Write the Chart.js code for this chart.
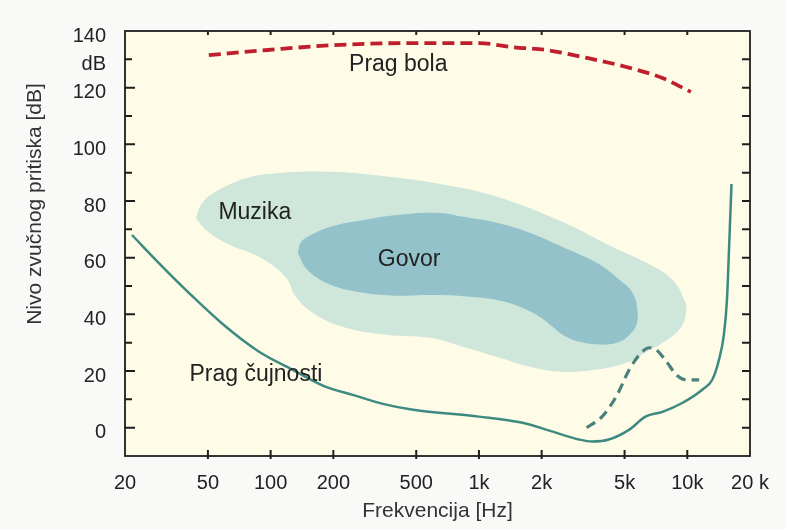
<!DOCTYPE html>
<html><head><meta charset="utf-8">
<script src="https://cdn.jsdelivr.net/npm/chart.js@4"></script>
<style>html,body{margin:0;padding:0;background:#f9f9f8;} #wrap{width:786px;height:529px;}</style>
</head><body><div id="wrap"><canvas id="c" width="786" height="529"></canvas></div>
<script>
// ---- data (frequency in Hz, level in dB) ----
const xTickValues = [20, 50, 100, 200, 500, 1000, 2000, 5000, 10000, 20000];
const xTickLabels = ['20', '50', '100', '200', '500', '1k', '2k', '5k', '10k', '20 k'];
const yMajorLabels = {140: '140', 130: 'dB', 120: '120', 100: '100', 80: '80', 60: '60', 40: '40', 20: '20', 0: '0'};

const painThreshold = [[50.5,131.5],[97,133.3],[200,135],[420,135.7],[1000,135.7],[1450,134.3],[2100,133.3],[3300,130.5],[5100,127.3],[7600,123.4],[10400,118.5]];
const hearingThreshold = [[21.6,68],[29,58.2],[42.4,46.2],[61,35.6],[88,26.8],[127,20.5],[183,14.5],[250,11.5],[350,8.3],[483,6.3],[1000,3.9],[1600,1.8],[2260,-1.4],[3030,-4.2],[3500,-4.9],[4200,-4.2],[5270,-0.7],[6300,3.9],[7600,5.6],[9500,8.8],[11800,13.4],[13200,17],[14200,24],[15000,33],[15500,45],[15900,65],[16300,86]];
const hearingLoss = [[3290,0],[3900,3.9],[4560,11],[5270,20.5],[5890,25.7],[6580,28.2],[7100,27.5],[7950,23.3],[8850,18.7],[9900,16.9],[11400,16.9]];
const musicArea = [[43.8,74],[46.3,78.6],[53.4,82.9],[77.6,88.2],[112,89.9],[194,90.3],[336,88.9],[651,86],[1219,81.5],[2520,72.6],[4380,63.8],[6370,58.2],[8480,52.2],[9680,45.1],[9890,41.6],[9360,35.6],[7760,30.3],[6370,26.8],[5280,23.3],[3670,20.5],[2520,19.7],[1750,21.5],[1219,25],[838,28.6],[583,31.7],[355,32.8],[221,35.6],[159,40.6],[132,46.2],[118,53.2],[87.6,60.3],[60.9,65.2],[48.9,69.8],[43.8,74]];
const speechArea = [[135,61.7],[139,65.2],[150,67.3],[194,70.9],[279,73.3],[405,75.1],[651,75.8],[838,74.4],[1219,72.3],[1750,68.8],[2520,63.8],[3670,58.2],[4730,52.2],[5460,47.6],[5760,41.6],[5700,36.3],[5280,32.8],[4730,30.3],[3920,29.3],[3040,30.3],[2520,32.8],[2260,35.6],[1960,39.1],[1570,42.7],[1219,45.1],[838,46.4],[583,46.8],[405,46.6],[279,47.6],[194,50.4],[150,55.7],[135,61.7]];

const regionLabels = ['Prag bola', 'Muzika', 'Govor', 'Prag čujnosti'];
const regionLabelAt = [[410,128], [84,75.8], [462,59.2], [85,18.7]];
const xTitle = 'Frekvencija [Hz]';
const yTitle = 'Nivo zvučnog pritiska [dB]';

const FONT = '"Liberation Sans", Arial, Helvetica, sans-serif';
const pts = arr => arr.map(([x, y]) => ({x, y}));

const framePlugin = {
  id: 'frame',
  beforeDraw(chart) {
    const {ctx, chartArea: a} = chart;
    ctx.save();
    ctx.fillStyle = '#fefbe7';
    ctx.fillRect(a.left, a.top, a.right - a.left, a.bottom - a.top);
    ctx.restore();
  },
  afterDatasetsDraw(chart) {
    const {ctx, scales: {x, y}} = chart;
    ctx.save();
    ctx.fillStyle = '#222';
    ctx.font = '23px ' + FONT;
    ctx.textAlign = 'center';
    ctx.textBaseline = 'middle';
    regionLabels.forEach((t, i) => {
      ctx.fillText(t, x.getPixelForValue(regionLabelAt[i][0]), y.getPixelForValue(regionLabelAt[i][1]));
    });
    ctx.restore();
  },
  afterDraw(chart) {
    const {ctx, chartArea: a, scales: {x, y}} = chart;
    ctx.save();
    ctx.strokeStyle = '#1e1e1e';
    ctx.lineWidth = 1.8;
    ctx.strokeRect(a.left, a.top, a.right - a.left, a.bottom - a.top);
    ctx.lineWidth = 2;
    ctx.beginPath();
    y.ticks.forEach(t => {
      const v = t.value;
      if (v <= y.min || v >= y.max) return;
      const py = y.getPixelForValue(v);
      const len = (v % 20 === 0) ? 10 : 7;
      ctx.moveTo(a.left, py); ctx.lineTo(a.left + len, py);
      ctx.moveTo(a.right, py); ctx.lineTo(a.right - 8, py);
    });
    x.ticks.forEach(t => {
      const v = t.value;
      if (v <= x.min || v >= x.max) return;
      const px = x.getPixelForValue(v);
      ctx.moveTo(px, a.bottom + 3); ctx.lineTo(px, a.bottom - 6);
      ctx.moveTo(px, a.top); ctx.lineTo(px, a.top + 4);
    });
    ctx.stroke();
    // y axis title
    ctx.fillStyle = '#333';
    ctx.font = '21px ' + FONT;
    ctx.textAlign = 'center';
    ctx.textBaseline = 'middle';
    ctx.translate(35, 204);
    ctx.rotate(-Math.PI / 2);
    ctx.fillText(yTitle, 0, 0);
    ctx.restore();
  }
};

new Chart(document.getElementById('c'), {
  type: 'scatter',
  data: {
    datasets: [
      {label: 'Muzika', data: pts(musicArea), showLine: true, fill: 'shape', backgroundColor: '#cfe6da', borderColor: 'rgba(0,0,0,0)', borderWidth: 0, tension: 0.4, pointRadius: 0, order: 5},
      {label: 'Govor', data: pts(speechArea), showLine: true, fill: 'shape', backgroundColor: '#93c2ca', borderColor: 'rgba(0,0,0,0)', borderWidth: 0, tension: 0.4, pointRadius: 0, order: 4},
      {label: 'Prag čujnosti', data: pts(hearingThreshold), showLine: true, fill: false, borderColor: '#3d8a82', borderWidth: 2.5, cubicInterpolationMode: 'monotone', pointRadius: 0, order: 2},
      {label: 'Oštećenje', data: pts(hearingLoss), showLine: true, fill: false, borderColor: '#4a817c', borderWidth: 3.2, borderDash: [10, 6], cubicInterpolationMode: 'monotone', pointRadius: 0, order: 1},
      {label: 'Prag bola', data: pts(painThreshold), showLine: true, fill: false, borderColor: '#bf1f2d', borderWidth: 3.8, borderDash: [12, 6], cubicInterpolationMode: 'monotone', pointRadius: 0, order: 0}
    ]
  },
  options: {
    responsive: false,
    animation: false,
    devicePixelRatio: 1,
    layout: {padding: {top: 31, right: 36, left: 0, bottom: 0}},
    plugins: {legend: {display: false}, tooltip: {enabled: false}},
    scales: {
      x: {
        type: 'logarithmic', min: 20, max: 20000, position: 'bottom',
        grid: {display: false, drawTicks: false}, border: {display: false},
        afterBuildTicks: s => { s.ticks = xTickValues.map(v => ({value: v})); },
        afterFit: s => { s.height = 73; },
        ticks: {autoSkip: false, maxRotation: 0, minRotation: 0, padding: 15, color: '#222', font: {family: FONT, size: 20},
          callback: (v, i) => xTickLabels[i]},
        title: {display: true, text: xTitle, color: '#333', font: {family: FONT, size: 21}, padding: {top: 0, bottom: 5}}
      },
      y: {
        type: 'linear', min: -10, max: 140, position: 'left',
        grid: {display: false, drawTicks: false}, border: {display: false},
        afterFit: s => { s.width = 125; },
        ticks: {stepSize: 10, autoSkip: false, padding: 19, labelOffset: 5, color: '#222', font: {family: FONT, size: 20},
          callback: v => (yMajorLabels[v] !== undefined ? yMajorLabels[v] : '')}
      }
    }
  },
  plugins: [framePlugin]
});
</script>
</body></html>
